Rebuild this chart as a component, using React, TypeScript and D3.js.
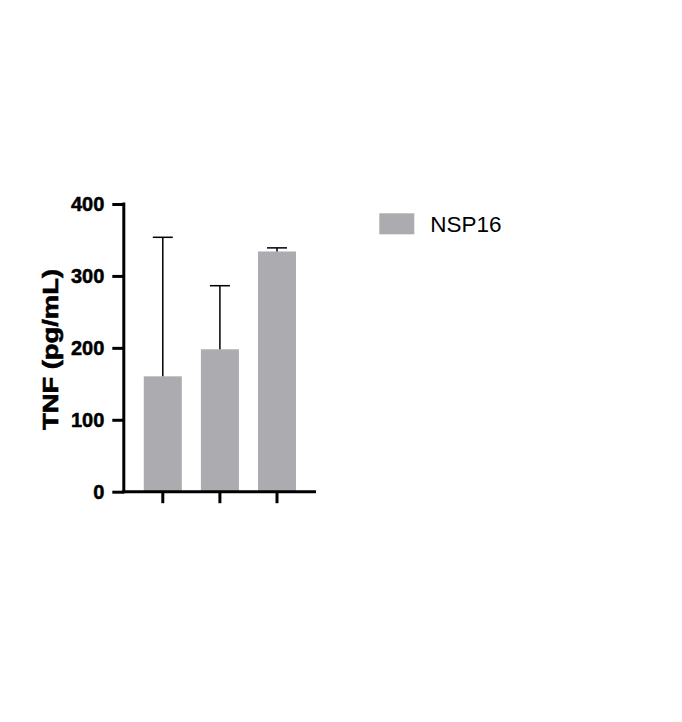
import { useRef, useEffect } from "react";
import * as d3 from "d3";

// values
const groups = ["g1", "g2", "g3"];
const means = [160.4, 198.0, 334.0];
const errors = [193.3, 88.4, 5.0];
const yTicks = [0, 100, 200, 300, 400];
const seriesName = "NSP16";
const yLabel = "TNF (pg/mL)";

const BAR_COLOR = "#acacb0";
const FONT = "'Liberation Sans', Arial, Helvetica, sans-serif";

const App = () => {
  const chartRef = useRef<HTMLDivElement | null>(null);

  useEffect(() => {
    if (chartRef.current === null) {
      return;
    }
    const width = 682;
    const height = 722;

    d3.select(chartRef.current).select("svg").remove();

    const svg = d3
      .select(chartRef.current)
      .append("svg")
      .attr("width", width)
      .attr("height", height)
      .style("display", "block")
      .style("font-family", FONT);

    // plot area edges
    const left = 123.8;
    const right = 316;
    const top = 204;
    const bottom = 491.7;

    const x = d3
      .scaleBand()
      .domain(groups)
      .range([left, right])
      .paddingInner(0.334)
      .paddingOuter(0.35);

    const y = d3.scaleLinear().domain([0, 400]).range([bottom, top]);

    // bars
    svg
      .selectAll(".bar")
      .data(groups)
      .enter()
      .append("rect")
      .attr("class", "bar")
      .attr("x", (d) => x(d) ?? 0)
      .attr("y", (d, i) => y(means[i]))
      .attr("width", x.bandwidth())
      .attr("height", (d, i) => bottom - y(means[i]))
      .attr("fill", BAR_COLOR);

    // error bars (upper only)
    const capHalf = 10;
    groups.forEach((g, i) => {
      const cx = (x(g) ?? 0) + x.bandwidth() / 2;
      const yTop = y(means[i] + errors[i]);
      svg
        .append("line")
        .attr("x1", cx)
        .attr("x2", cx)
        .attr("y1", y(means[i]))
        .attr("y2", yTop)
        .attr("stroke", "#000")
        .attr("stroke-width", 1.5);
      svg
        .append("line")
        .attr("x1", cx - capHalf)
        .attr("x2", cx + capHalf)
        .attr("y1", yTop)
        .attr("y2", yTop)
        .attr("stroke", "#000")
        .attr("stroke-width", 1.5);
    });

    // y axis
    const yAxis = svg
      .append("g")
      .attr("transform", `translate(${left},0)`)
      .call(
        d3
          .axisLeft(y)
          .tickValues(yTicks)
          .tickSize(11.5)
          .tickPadding(8)
          .tickSizeOuter(0)
      );
    yAxis.select(".domain").attr("stroke-width", 3).attr("d", `M0,${top - 1.5}V${bottom + 1.5}`);
    yAxis.selectAll(".tick line").attr("stroke-width", 3);
    yAxis
      .selectAll(".tick text")
      .attr("font-family", FONT)
      .attr("font-size", 20)
      .attr("font-weight", "bold")
      .attr("fill", "#000")
      .attr("stroke", "#000")
      .attr("stroke-width", 0.5);

    // x axis
    const xAxis = svg
      .append("g")
      .attr("transform", `translate(0,${bottom})`)
      .call(d3.axisBottom(x).tickSize(11.5).tickSizeOuter(0).tickFormat(() => ""));
    xAxis.select(".domain").attr("stroke-width", 3).attr("d", `M${left - 1.5},0H${right}`);
    xAxis.selectAll(".tick line").attr("stroke-width", 3);

    // y axis title
    svg
      .append("text")
      .attr("transform", `translate(57.5,349.5) rotate(-90)`)
      .attr("text-anchor", "middle")
      .attr("font-size", 22)
      .attr("font-weight", "bold")
      .attr("textLength", 161)
      .attr("lengthAdjust", "spacingAndGlyphs")
      .attr("fill", "#000")
      .attr("stroke", "#000")
      .attr("stroke-width", 0.6)
      .text(yLabel);

    // legend
    const legend = svg.append("g").attr("transform", "translate(379.3,213.3)");
    legend
      .append("rect")
      .attr("width", 35)
      .attr("height", 21)
      .attr("fill", BAR_COLOR);
    legend
      .append("text")
      .attr("x", 51)
      .attr("y", 19)
      .attr("font-size", 22.5)
      .attr("fill", "#000")
      .text(seriesName);
  }, []);

  return (
    <div
      ref={chartRef}
      style={{ position: "absolute", left: 0, top: 0, background: "#fff" }}
    />
  );
};

export default App;
